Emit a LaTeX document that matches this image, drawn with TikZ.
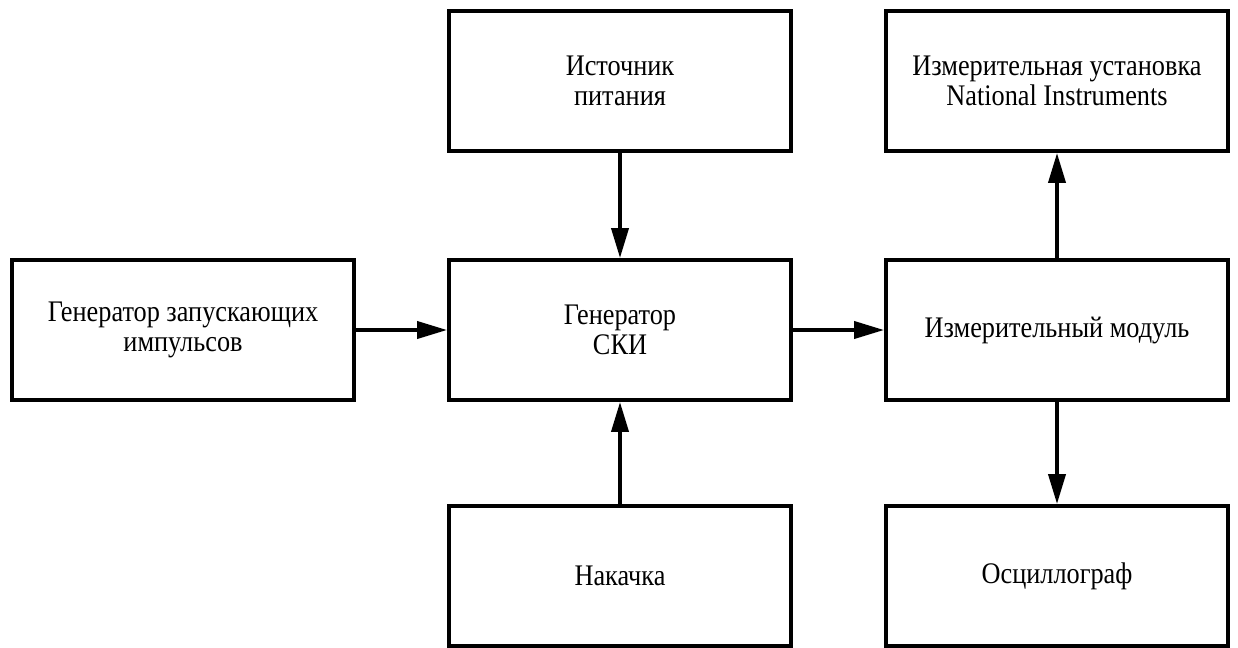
\documentclass[tikz,border=0pt]{standalone}
\usepackage{fontspec}
\setmainfont[FakeStretch=0.88]{Liberation Serif}
\usepackage{tikz}
\usetikzlibrary{arrows.meta}

\begin{document}
\begin{tikzpicture}
%%%%%%%%%%%%%%%%%%%%%%%%%%%%%%%%%%%%%%%%%%%%%%%%%%%%%%%%%%%%%%
%BACKGROUND
\useasboundingbox (0,0) rectangle (24.76,-12.96);

%%%%%%%%%%%%%%%%%%%%%%%%%%%%%%%%%%%%%%%%%%%%%%%%%%%%%%%%%%%%%%
%blocks
%vars
\tikzstyle{block}=[draw,line width=2.2pt,minimum width=6.84cm,minimum height=2.8cm,inner sep=0pt,align=center,font=\fontsize{17}{17}\selectfont]
\tikzstyle{link}=[line width=2.2pt,-{Triangle[length=0.6cm,width=0.34cm]}]

%left
\node[block] (trigger) at (3.66,-6.6) {Генератор запускающих\\импульсов};
%middle
\node[block] (power) at (12.4,-1.62) {Источник\\питания};
\node[block] (gen) at (12.4,-6.6) {Генератор\\СКИ};
\node[block] (pump) at (12.4,-11.52) {Накачка};
%right
\node[block] (ni) at (21.14,-1.62) {Измерительная установка\\National Instruments};
\node[block] (meas) at (21.14,-6.6) {Измерительный модуль};
\node[block] (scope) at (21.14,-11.52) {Осциллограф};

%%%%%%%%%%%%%%%%%%%%%%%%%%%%%%%%%%%%%%%%%%%%%%%%%%%%%%%%%%%%%%
%ARROWS
%into generator
\draw[link] (trigger) -- (gen);
\draw[link] (power) -- (gen);
\draw[link] (pump) -- (gen);
%out of generator
\draw[link] (gen) -- (meas);
\draw[link] (meas) -- (ni);
\draw[link] (meas) -- (scope);
\end{tikzpicture}
\end{document}
